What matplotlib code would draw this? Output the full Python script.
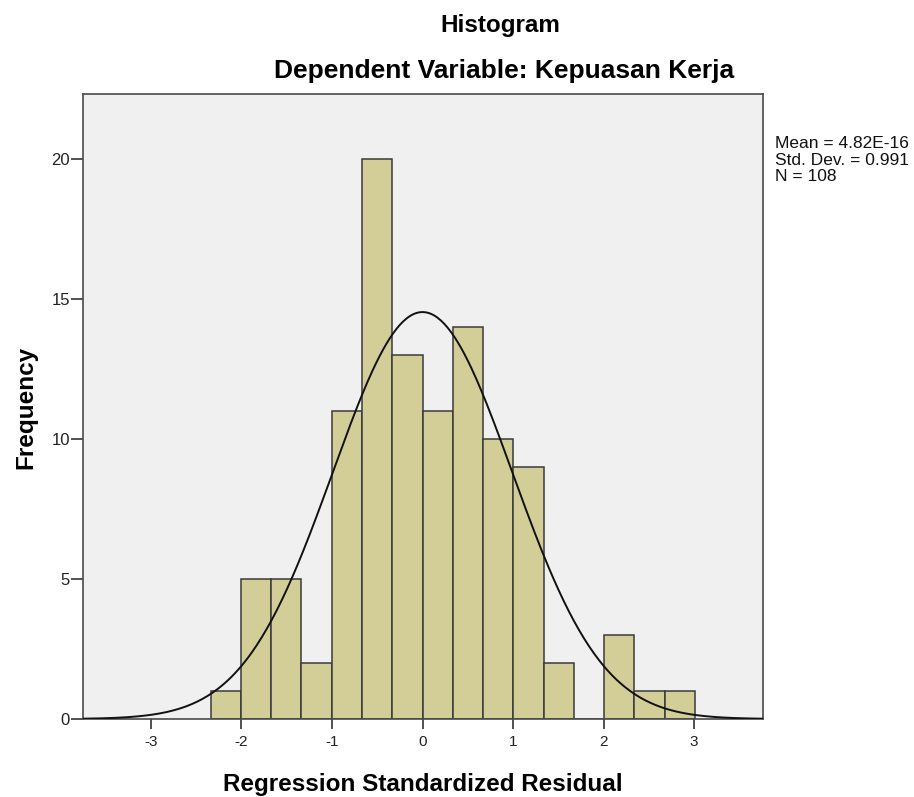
import numpy as np
import matplotlib
matplotlib.use("Agg")
import matplotlib.pyplot as plt

plt.rcParams['font.family'] = ['Liberation Sans', 'DejaVu Sans']

# Data
bin_edges = [-2.340, -2.006, -1.672, -1.337, -1.003, -0.669, -0.335, -0.000,
             0.334, 0.668, 1.002, 1.337, 1.671, 2.005, 2.339, 2.674, 3.008]
counts = [1, 5, 5, 2, 11, 20, 13, 11, 14, 10, 9, 2, 0, 3, 1, 1]
mean_val = 4.82e-16
std_val = 0.991
n_val = 108
x_ticks = [-3, -2, -1, 0, 1, 2, 3]
y_ticks = [0, 5, 10, 15, 20]
stats_lines = ['Mean = 4.82E-16', 'Std. Dev. = 0.991', 'N = 108']

W, H = 914, 797
fig = plt.figure(figsize=(W/100, H/100), dpi=100)
ax = fig.add_axes([83/W, 1-719/H, (763-83)/W, (719-94)/H])
ax.set_facecolor('#f0f0f0')

edges = np.array(bin_edges)
widths = np.diff(edges)
ax.bar(edges[:-1], counts, width=widths, align='edge', color='#d3ce97',
       edgecolor='#3a3a3a', linewidth=1.1, zorder=2)

bw = float(np.mean(widths))
xs = np.linspace(-3.75, 3.76, 400)
ys = n_val * bw / (std_val * np.sqrt(2*np.pi)) * np.exp(-0.5*((xs-mean_val)/std_val)**2)
ax.plot(xs, ys, color='#111111', linewidth=1.4, zorder=3)

ax.set_xlim(-3.75, 3.76)
ax.set_ylim(0, 22.32)
ax.set_xticks(x_ticks)
ax.set_xticklabels([str(t) for t in x_ticks])
ax.set_yticks(y_ticks)
ax.set_yticklabels([str(t) for t in y_ticks])
ax.tick_params(axis='x', direction='out', length=7.5, width=1.2, color='#333333',
               labelsize=11, labelcolor='#222222', pad=4)
ax.tick_params(axis='y', direction='out', length=8.5, width=1.2, color='#333333',
               labelsize=12, labelcolor='#222222', pad=1)
for s in ax.spines.values():
    s.set_color('#4a4a4a')
    s.set_linewidth(1.2)

fig.text(423/W, 1-791/H, 'Regression Standardized Residual', ha='center', va='baseline',
         fontsize=17.5, fontweight='bold')
fig.text(32/W, 1-407.5/H, 'Frequency', ha='center', va='baseline', rotation=90,
         rotation_mode='anchor', fontsize=17.5, fontweight='bold')

fig.text(500/W, 1-32/H, 'Histogram', ha='center', va='baseline', fontsize=17.5, fontweight='bold')
fig.text(504/W, 1-78/H, 'Dependent Variable: Kepuasan Kerja', ha='center', va='baseline',
         fontsize=19, fontweight='bold')

for i, line in enumerate(stats_lines):
    fig.text(775/W, 1-(148 + 16.7*i)/H, line, ha='left', va='baseline',
             fontsize=12.5, color='#111111')

fig.savefig('out.png', dpi=100)
